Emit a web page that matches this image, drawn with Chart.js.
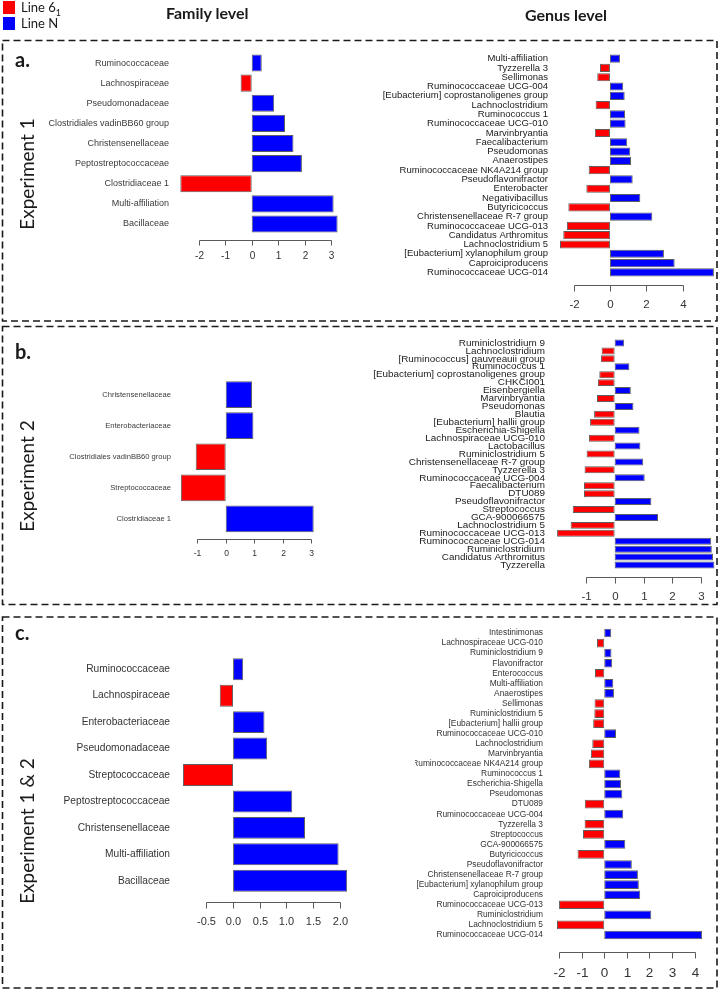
<!DOCTYPE html>
<html>
<head>
<meta charset="utf-8">
<script src="https://cdn.jsdelivr.net/npm/chart.js@4.4.1/dist/chart.umd.min.js"></script>
<style>
  body { margin: 0; background: #fff; }
  #fig { position: relative; width: 719px; height: 991px; overflow: hidden; font-family: Lato, "Open Sans", sans-serif; color: #1a1a1a; }
  #fig canvas { position: absolute; }
  .t { position: absolute; white-space: nowrap; line-height: 1; }
  .sq { position: absolute; width: 12px; height: 13px; }
  .rot { position: absolute; white-space: nowrap; line-height: 1; font-size: 19px; transform: translate(-50%, -50%) rotate(-90deg); }
  .letter { position: absolute; font-weight: bold; font-size: 20px; line-height: 1; }
</style>
</head>
<body>
<div id="fig">
  <canvas id="frames" width="719" height="991" style="left:0;top:0"></canvas>

  <div class="sq" style="left:3px;top:1px;background:#ff0000"></div>
  <div class="sq" style="left:3px;top:17px;background:#0000ff"></div>
  <div class="t" style="left:21px;top:1px;font-size:13px">Line 6<sub style="font-size:9px">1</sub></div>
  <div class="t" style="left:21px;top:17px;font-size:13px">Line N</div>
  <div class="t" style="left:166px;top:5px;font-size:16px;font-weight:bold">Family level</div>
  <div class="t" style="left:525px;top:7px;font-size:16px;font-weight:bold">Genus level</div>

  <div class="letter" style="left:15px;top:49px">a.</div>
  <div class="letter" style="left:15px;top:341px">b.</div>
  <div class="letter" style="left:15px;top:622px">c.</div>
  <div class="rot" style="left:26px;top:174px">Experiment 1</div>
  <div class="rot" style="left:26px;top:476px">Experiment 2</div>
  <div class="rot" style="left:26px;top:831px">Experiment 1 &amp; 2</div>

  <canvas id="famA"></canvas>
  <canvas id="genA"></canvas>
  <canvas id="famB"></canvas>
  <canvas id="genB"></canvas>
  <canvas id="famC"></canvas>
  <canvas id="genC"></canvas>
</div>

<script>
// ---- data ----
const famA_labels = ["Ruminococcaceae", "Lachnospiraceae", "Pseudomonadaceae", "Clostridiales vadinBB60 group",
  "Christensenellaceae", "Peptostreptococcaceae", "Clostridiaceae 1", "Multi-affiliation", "Bacillaceae"];
const famA_values = [0.38, -0.42, 0.85, 1.26, 1.58, 1.9, -2.7, 3.1, 3.25];
const famA_ticks = ["-2", "-1", "0", "1", "2", "3"];

const genA_labels = ["Multi-affiliation", "Tyzzerella 3", "Sellimonas", "Ruminococcaceae UCG-004",
  "[Eubacterium] coprostanoligenes group", "Lachnoclostridium", "Ruminococcus 1", "Ruminococcaceae UCG-010",
  "Marvinbryantia", "Faecalibacterium", "Pseudomonas", "Anaerostipes", "Ruminococcaceae NK4A214 group",
  "Pseudoflavonifractor", "Enterobacter", "Negativibacillus", "Butyricicoccus", "Christensenellaceae R-7 group",
  "Ruminococcaceae UCG-013", "Candidatus Arthromitus", "Lachnoclostridium 5", "[Eubacterium] xylanophilum group",
  "Caproiciproducens", "Ruminococcaceae UCG-014"];
const genA_values = [0.55, -0.55, -0.70, 0.73, 0.81, -0.79, 0.83, 0.86, -0.83, 0.95, 1.12, 1.16, -1.17, 1.25,
  -1.30, 1.67, -2.29, 2.33, -2.37, -2.57, -2.75, 2.97, 3.56, 5.72];
const genA_ticks = ["-2", "0", "2", "4"];

const famB_labels = ["Christensenellaceae", "Enterobacteriaceae", "Clostridiales vadinBB60 group",
  "Streptococcaceae", "Clostridiaceae 1"];
const famB_values = [0.92, 0.97, -1.05, -1.57, 3.08];
const famB_ticks = ["-1", "0", "1", "2", "3"];

const genB_labels = ["Ruminiclostridium 9", "Lachnoclostridium", "[Ruminococcus] gauvreauii group", "Ruminococcus 1",
  "[Eubacterium] coprostanoligenes group", "CHKCI001", "Eisenbergiella", "Marvinbryantia", "Pseudomonas", "Blautia",
  "[Eubacterium] hallii group", "Escherichia-Shigella", "Lachnospiraceae UCG-010", "Lactobacillus",
  "Ruminiclostridium 5", "Christensenellaceae R-7 group", "Tyzzerella 3", "Ruminococcaceae UCG-004",
  "Faecalibacterium", "DTU089", "Pseudoflavonifractor", "Streptococcus", "GCA-900066575", "Lachnoclostridium 5",
  "Ruminococcaceae UCG-013", "Ruminococcaceae UCG-014", "Ruminiclostridium", "Candidatus Arthromitus", "Tyzzerella"];
const genB_values = [0.33, -0.45, -0.47, 0.51, -0.53, -0.58, 0.56, -0.61, 0.65, -0.71, -0.85, 0.86, -0.89, 0.89,
  -0.97, 0.99, -1.04, 1.04, -1.06, -1.06, 1.27, -1.45, 1.50, -1.52, -1.99, 3.34, 3.36, 3.40, 3.45];
const genB_ticks = ["-1", "0", "1", "2", "3"];

const famC_labels = ["Ruminococcaceae", "Lachnospiraceae", "Enterobacteriaceae", "Pseudomonadaceae",
  "Streptococcaceae", "Peptostreptococcaceae", "Christensenellaceae", "Multi-affiliation", "Bacillaceae"];
const famC_values = [0.19, -0.25, 0.59, 0.64, -0.94, 1.11, 1.35, 1.98, 2.14];
const famC_ticks = ["-0.5", "0.0", "0.5", "1.0", "1.5", "2.0"];

const genC_labels = ["Intestinimonas", "Lachnospiraceae UCG-010", "Ruminiclostridium 9", "Flavonifractor",
  "Enterococcus", "Multi-affiliation", "Anaerostipes", "Sellimonas", "Ruminiclostridium 5",
  "[Eubacterium] hallii group", "Ruminococcaceae UCG-010", "Lachnoclostridium", "Marvinbryantia",
  "Ruminococcaceae NK4A214 group", "Ruminococcus 1", "Escherichia-Shigella", "Pseudomonas", "DTU089",
  "Ruminococcaceae UCG-004", "Tyzzerella 3", "Streptococcus", "GCA-900066575", "Butyricicoccus",
  "Pseudoflavonifractor", "Christensenellaceae R-7 group", "[Eubacterium] xylanophilum group", "Caproiciproducens",
  "Ruminococcaceae UCG-013", "Ruminiclostridium", "Lachnoclostridium 5", "Ruminococcaceae UCG-014"];
const genC_values = [0.31, -0.32, 0.32, 0.35, -0.41, 0.40, 0.43, -0.43, -0.44, -0.49, 0.52, -0.53, -0.59, -0.68,
  0.71, 0.74, 0.80, -0.86, 0.84, -0.87, -0.94, 0.93, -1.18, 1.22, 1.49, 1.53, 1.59, -2.0, 2.08, -2.09, 4.33];
const genC_ticks = ["-2", "-1", "0", "1", "2", "3", "4"];

const RED = "#ff0000";
const BLUE = "#0000ff";
const FONT = "'Liberation Sans', Arial, sans-serif";
const PAD_T = 16;

// dashed frames round each panel
(function drawFrames() {
  const ctx = document.getElementById("frames").getContext("2d");
  ctx.strokeStyle = "#1a1a1a";
  ctx.lineWidth = 1.6;
  ctx.setLineDash([7, 4]);
  [[40.5, 321], [326.5, 604.5], [617, 988]].forEach(([y0, y1]) => {
    ctx.strokeRect(2.5, y0, 714.5, y1 - y0);
  });
})();

// R-like x axis drawn under the bars, positions from the chart's x scale
function rAxis(ticks, o) {
  return {
    id: "rAxis",
    afterDraw(chart) {
      const ctx = chart.ctx;
      const sx = chart.scales.x;
      const y0 = Math.round(chart.chartArea.bottom + o.gap) + 0.5;
      const xs = ticks.map(t => Math.round(sx.getPixelForValue(parseFloat(t))) + 0.5);
      ctx.save();
      ctx.strokeStyle = "#5a5a5a";
      ctx.lineWidth = 1;
      ctx.beginPath();
      ctx.moveTo(xs[0], y0);
      ctx.lineTo(xs[xs.length - 1], y0);
      xs.forEach(x => { ctx.moveTo(x, y0); ctx.lineTo(x, y0 + o.tickLen); });
      ctx.stroke();
      ctx.fillStyle = "#333";
      ctx.font = o.tickFont + "px " + FONT;
      ctx.textAlign = "center";
      ctx.textBaseline = "middle";
      ticks.forEach((t, i) => ctx.fillText(t, xs[i], y0 + o.labelOff));
      ctx.restore();
    }
  };
}

function barChart(id, labels, values, ticks, o) {
  const cv = document.getElementById(id);
  cv.width = o.w;
  cv.height = o.h;
  cv.style.left = o.x + "px";
  cv.style.top = o.y + "px";
  return new Chart(cv, {
    type: "bar",
    data: {
      labels: labels,
      datasets: [{
        data: values,
        backgroundColor: values.map(v => v < 0 ? RED : BLUE),
        borderColor: "#5f5f5f",
        borderWidth: 1,
        borderSkipped: false,
        categoryPercentage: 1,
        barPercentage: o.bar
      }]
    },
    options: {
      indexAxis: "y",
      responsive: false,
      animation: false,
      layout: { padding: { top: PAD_T, bottom: o.h - PAD_T - o.areaH, left: 0, right: 0 } },
      scales: {
        x: { type: "linear", display: false, min: o.min, max: o.max },
        y: {
          grid: { display: false, drawTicks: false },
          border: { display: false },
          ticks: {
            autoSkip: false,
            padding: o.pad,
            color: o.labelColor,
            font: { family: FONT, size: o.labelFont }
          },
          afterFit(scale) { scale.width = o.labelW; }
        }
      },
      plugins: { legend: { display: false }, tooltip: { enabled: false } }
    },
    plugins: [rAxis(ticks, o)]
  });
}

barChart("famA", famA_labels, famA_values, famA_ticks, {
  x: 14, y: 37, w: 331, h: 240, areaH: 181, labelW: 160, pad: 5,
  min: -2.94, max: 3.53, bar: 0.85, labelFont: 9, labelColor: "#3a3a3a",
  gap: 6, tickLen: 5, labelOff: 16, tickFont: 10
});

barChart("genA", genA_labels, genA_values, genA_ticks, {
  x: 370, y: 38, w: 345, h: 276, areaH: 223, labelW: 184, pad: 6,
  min: -3.08, max: 5.78, bar: 0.88, labelFont: 9.5, labelColor: "#1a1a1a",
  gap: 8, tickLen: 6, labelOff: 19, tickFont: 11.5
});

barChart("famB", famB_labels, famB_values, famB_ticks, {
  x: 16, y: 363, w: 306, h: 206, areaH: 155.5, labelW: 160, pad: 5,
  min: -1.74, max: 3.37, bar: 0.86, labelFont: 7.6, labelColor: "#3a3a3a",
  gap: 4, tickLen: 4, labelOff: 14, tickFont: 8.5
});

barChart("genB", genB_labels, genB_values, genB_ticks, {
  x: 362, y: 323, w: 353, h: 280, areaH: 230, labelW: 189, pad: 6,
  min: -2.2, max: 3.47, bar: 0.88, labelFont: 9.9, labelColor: "#1a1a1a",
  gap: 8, tickLen: 6, labelOff: 19, tickFont: 11.5
});

barChart("famC", famC_labels, famC_values, famC_ticks, {
  x: 16, y: 640, w: 337, h: 296, areaH: 238, labelW: 160, pad: 6,
  min: -1.07, max: 2.25, bar: 0.83, labelFont: 10.2, labelColor: "#333",
  gap: 8, tickLen: 6, labelOff: 19, tickFont: 11
});

barChart("genC", genC_labels, genC_values, genC_ticks, {
  x: 415, y: 612, w: 293, h: 372, areaH: 312, labelW: 135, pad: 7,
  min: -2.4, max: 4.59, bar: 0.86, labelFont: 8.4, labelColor: "#333",
  gap: 12, tickLen: 6, labelOff: 21, tickFont: 13.5
});
</script>
</body>
</html>
